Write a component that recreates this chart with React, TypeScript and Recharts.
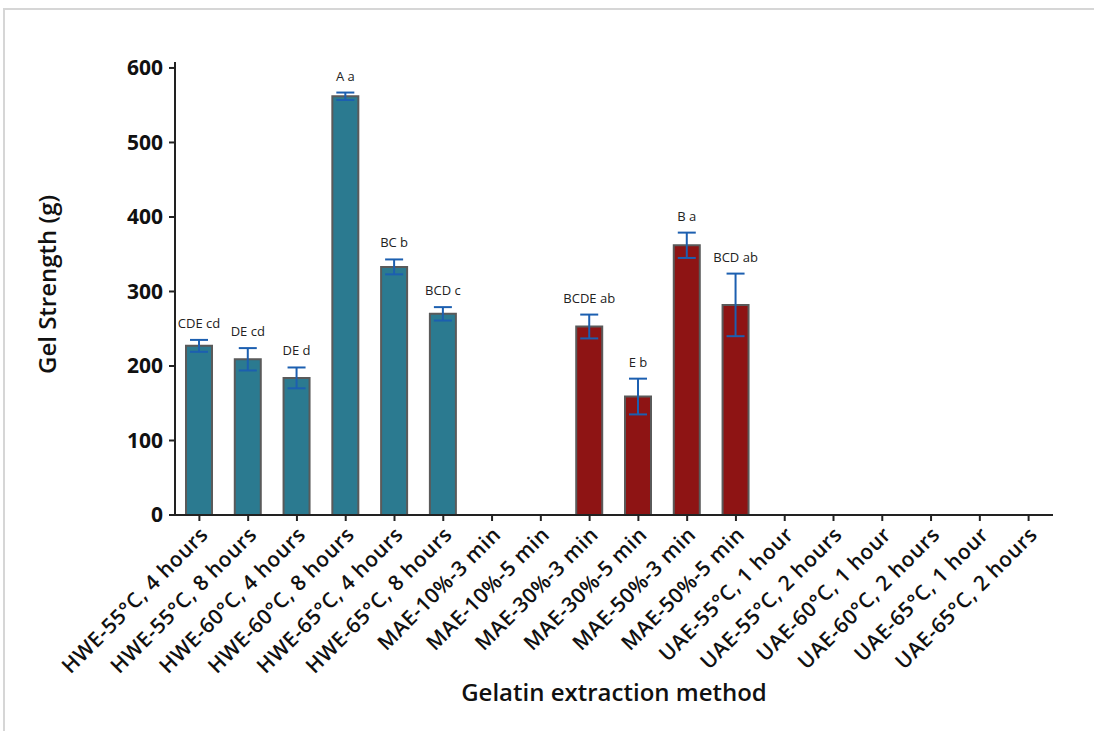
import { BarChart, Bar, Cell, XAxis, YAxis, ErrorBar, LabelList } from 'recharts';

const methods = [
  'HWE-55°C, 4 hours', 'HWE-55°C, 8 hours', 'HWE-60°C, 4 hours', 'HWE-60°C, 8 hours',
  'HWE-65°C, 4 hours', 'HWE-65°C, 8 hours',
  'MAE-10%-3 min', 'MAE-10%-5 min', 'MAE-30%-3 min', 'MAE-30%-5 min', 'MAE-50%-3 min', 'MAE-50%-5 min',
  'UAE-55°C, 1 hour', 'UAE-55°C, 2 hours', 'UAE-60°C, 1 hour', 'UAE-60°C, 2 hours',
  'UAE-65°C, 1 hour', 'UAE-65°C, 2 hours',
];
const gelStrength = [227, 209, 184, 562, 333, 270, null, null, 253, 159, 362, 282, null, null, null, null, null, null];
const stdErr = [8, 15, 14, 5, 10, 9, null, null, 16, 24, 17, 42, null, null, null, null, null, null];
const letters = ['CDE cd', 'DE cd', 'DE d', 'A a', 'BC b', 'BCD c', '', '', 'BCDE ab', 'E b', 'B a', 'BCD ab', '', '', '', '', '', ''];
const groups = ['HWE', 'HWE', 'HWE', 'HWE', 'HWE', 'HWE', 'MAE', 'MAE', 'MAE', 'MAE', 'MAE', 'MAE', 'UAE', 'UAE', 'UAE', 'UAE', 'UAE', 'UAE'];
const yTicks = [0, 100, 200, 300, 400, 500, 600];

const groupColors: Record<string, string> = { HWE: '#2b7a90', MAE: '#8e1414', UAE: '#2b7a90' };

const data = methods.map((m, i) => ({
  method: m,
  gel: gelStrength[i],
  err: stdErr[i],
  letter: letters[i],
  group: groups[i],
}));

const FONT = '"Open Sans", "Segoe UI", sans-serif';

// rotated category labels, right end sits under the tick
const MethodTick = (props: any) => {
  const { x, y, payload } = props;
  return (
    <g transform={`translate(${x + 5},${y + 8})`}>
      <text
        transform="rotate(-45)"
        textAnchor="end"
        fontFamily={FONT}
        fontSize={21}
        fontWeight={600}
        letterSpacing={0.5}
        fill="#111"
        dy={7}
      >
        {payload.value}
      </text>
    </g>
  );
};

// significance letters, drawn just above the top of each error bar
const LetterLabel = (props: any) => {
  const { x, y, width, height, value } = props;
  if (!value) return null;
  const i = letters.indexOf(value);
  const v = gelStrength[i];
  const e = stdErr[i];
  if (v == null || !height) return null;
  const pxPerUnit = height / v;
  const errTop = y - (e || 0) * pxPerUnit;
  return (
    <text
      x={x + width / 2}
      y={errTop - 12}
      textAnchor="middle"
      fontFamily={FONT}
      fontSize={13}
      fill="#222"
    >
      {value}
    </text>
  );
};

export default function App() {
  return (
    <div style={{ position: 'absolute', left: 0, top: 0, width: 1094, height: 731, background: '#fff' }}>
      <div
        style={{
          position: 'absolute',
          left: 3,
          top: 8,
          width: 1091,
          height: 723,
          borderTop: '2px solid #d6d6d6',
          borderLeft: '2px solid #d6d6d6',
          boxSizing: 'border-box',
        }}
      />
      <BarChart
        width={1094}
        height={731}
        data={data}
        margin={{ top: 62, right: 41, left: 0, bottom: 0 }}
        barCategoryGap={0}
        style={{ position: 'absolute', left: 0, top: 0 }}
      >
        <XAxis
          dataKey="method"
          interval={0}
          height={216}
          stroke="#222"
          strokeWidth={2}
          tickSize={6}
          tick={<MethodTick />}
          label={{
            value: 'Gelatin extraction method',
            position: 'insideBottom',
            offset: 30,
            style: { fontFamily: FONT, fontSize: 24, fontWeight: 600, fill: '#111' },
          }}
        />
        <YAxis
          width={175}
          domain={[0, 608]}
          ticks={yTicks}
          interval={0}
          stroke="#222"
          strokeWidth={2}
          tickSize={6}
          tickMargin={6}
          tick={{ fontFamily: FONT, fontSize: 21, fontWeight: 700, fill: '#111' }}
          label={{
            value: 'Gel Strength (g)',
            angle: -90,
            position: 'insideLeft',
            offset: 0,
            dx: 47,
            dy: -4,
            style: { textAnchor: 'middle', fontFamily: FONT, fontSize: 24, fontWeight: 600, fill: '#111' },
          }}
        />
        <Bar dataKey="gel" barSize={26} stroke="#5a5a5a" strokeWidth={2} isAnimationActive={false}>
          {data.map((d, i) => (
            <Cell key={`cell-${i}`} fill={groupColors[d.group]} />
          ))}
          <ErrorBar dataKey="err" width={9} strokeWidth={2} stroke="#1c5fb0" direction="y" />
          <LabelList dataKey="letter" content={<LetterLabel />} />
        </Bar>
      </BarChart>
    </div>
  );
}
